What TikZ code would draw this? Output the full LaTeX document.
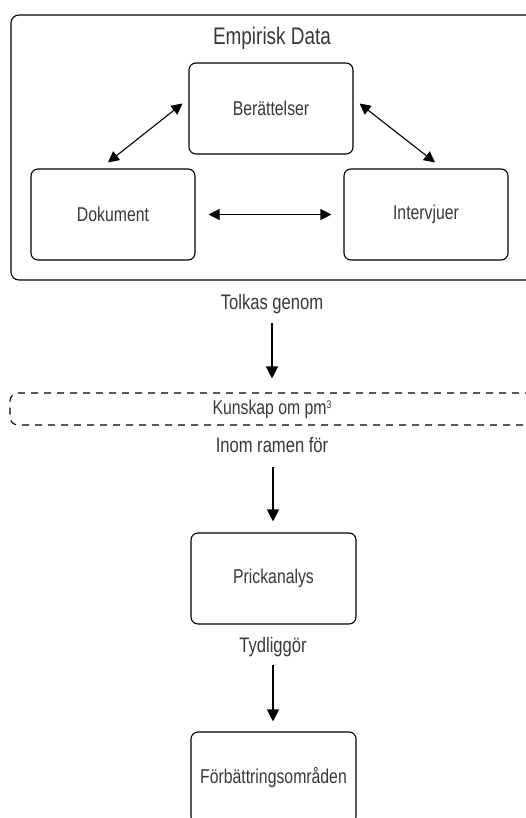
\documentclass[tikz,border=0pt]{standalone}
\usepackage{fontspec}
\setmainfont[FakeStretch=0.79]{Liberation Sans}
\usetikzlibrary{arrows.meta}
\begin{document}
\begin{tikzpicture}[x=1pt,y=-1pt,
  lbl/.style={text=black!78, font=\fontsize{21}{24}\selectfont, inner sep=0pt},
  ttl/.style={text=black!78, font=\fontsize{24}{28}\selectfont, inner sep=0pt},
  box/.style={draw, line width=1.1pt, rounded corners=7pt, minimum width=164pt, minimum height=91pt, inner sep=0pt, text=black!78, font=\fontsize{20}{24}\selectfont},
  frame/.style={draw, line width=1.1pt, rounded corners=8pt, inner sep=0pt},
  dframe/.style={draw, line width=1.1pt, rounded corners=8pt, inner sep=0pt, dash pattern=on 7pt off 6pt},
  arr/.style={line width=1.1pt, -{Triangle[length=12pt,width=12pt]}},
  dbl/.style={line width=1.1pt, {Triangle[length=11pt,width=11pt]}-{Triangle[length=11pt,width=11pt]}}
]
\clip (0,0) rectangle (526,818);
% outer frame
\node[frame, minimum width=530pt, minimum height=265pt] (emp) at (276,147.5) {};
\node[ttl] (empt) at (272,38) {Empirisk Data};
\node[box] (ber) at (271,108.5) {Berättelser};
\node[box] (dok) at (113,214.5) {Dokument};
\node[box] (int) at (426,214.5) {Intervjuer};
\draw[dbl] ([shift={(-5,-6)}]dok.north) -- ([shift={(-6,-5)}]ber.west);
\draw[dbl] ([shift={(6,-5)}]ber.east) -- ([shift={(9,-6)}]int.north);
\draw[dbl] ([shift={(13,0)}]dok.east) -- ([shift={(-12,0)}]int.west);
% Tolkas genom
\node[lbl] (tolk) at (272,304) {Tolkas genom};
\node[dframe, minimum width=530pt, minimum height=32pt] (kun) at (275,409) {};
\node[lbl, font=\fontsize{20}{24}\selectfont] (kuntxt) at (272,409) {Kunskap om pm\raisebox{6pt}{\fontsize{11}{12}\selectfont 3}};
\coordinate (t1) at (272,323);
\draw[arr, shorten >=14pt] (t1) -- (t1 |- kun.north);
% Inom ramen for
\node[lbl] (inom) at (272,445) {Inom ramen för};
\node[box, minimum width=165pt] (pri) at (273.5,578.5) {Prickanalys};
\coordinate (t2) at (273,467);
\draw[arr, shorten >=11pt] (t2) -- (t2 |- pri.north);
% Tydliggor
\node[lbl] (tyd) at (273,647) {Tydliggör};
\node[box, minimum width=165pt, minimum height=92pt] (forb) at (273.5,778) {Förbättringsområden};
\coordinate (t3) at (273,665);
\draw[arr, shorten >=10pt] (t3) -- (t3 |- forb.north);
\end{tikzpicture}
\end{document}
